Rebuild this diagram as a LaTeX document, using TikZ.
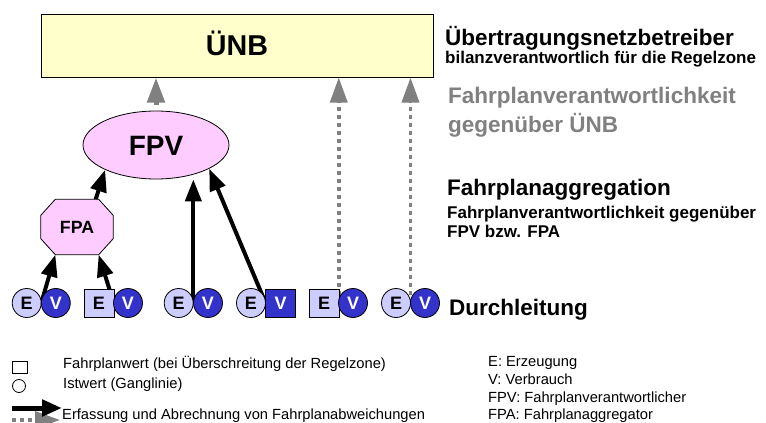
\documentclass[tikz,border=0pt]{standalone}
\usepackage{fontspec}
\setmainfont{Liberation Sans}
\usetikzlibrary{arrows.meta,shapes.geometric,calc}
\definecolor{unbfill}{HTML}{FFFFCC}
\definecolor{fpfill}{HTML}{FFCCFF}
\definecolor{efill}{HTML}{CCCCFF}
\definecolor{vfill}{HTML}{3333CC}
\definecolor{gline}{HTML}{808080}
\pgfdeclarelayer{bg}
\pgfsetlayers{bg,main}
\tikzset{
  unit/.style={draw, line width=0.8pt, inner sep=0pt, text height=13pt, text depth=0pt,
    font=\fontsize{18}{18}\selectfont\bfseries},
  ecirc/.style={unit, circle, minimum size=29pt, fill=efill},
  vcirc/.style={unit, circle, minimum size=29pt, fill=vfill, text=white},
  esq/.style={unit, rectangle, minimum width=30pt, minimum height=28pt, fill=efill},
  vsq/.style={unit, rectangle, minimum width=30pt, minimum height=28pt, fill=vfill, text=white},
  blkarrow/.style={line width=4pt, -{Triangle[length=22pt,width=16pt]}},
  grayarrow/.style={gline, line width=5pt, -{Triangle[length=25pt,width=17pt]}},
  dotarrow/.style={gline, line width=3.5pt, dash pattern=on 4pt off 4pt,
    -{Triangle[length=25pt,width=17pt]}},
  txt/.style={anchor=base west, inner sep=0pt},
  head/.style={txt, font=\fontsize{22.5}{27}\selectfont\bfseries},
  sub/.style={txt, font=\fontsize{17}{20}\selectfont\bfseries},
  leg/.style={txt, font=\fontsize{14.7}{17}\selectfont},
}
\begin{document}
\begin{tikzpicture}[x=1pt,y=-1pt]
\useasboundingbox (0,0) rectangle (766,423);

% top level: transmission system operator
\node[draw, fill=unbfill, line width=1pt, minimum width=392pt, minimum height=63pt,
  inner sep=0pt, text height=20.5pt, text depth=0pt,
  font=\fontsize{28.7}{32}\selectfont\bfseries] (unb) at (237,45.5) {ÜNB};

% schedule responsible party
\node[ellipse, draw, line width=0.8pt, fill=fpfill, minimum width=146pt, minimum height=68pt,
  inner sep=0pt, text height=20pt, text depth=0pt,
  font=\fontsize{28}{30}\selectfont\bfseries] (fpv) at (156,145) {FPV};

% schedule aggregator: octagon drawn around a rectangular node
\node[minimum width=72pt, minimum height=55pt, inner sep=0pt] (fpa) at (77,227) {};
\draw[line width=0.8pt, fill=fpfill]
  ($(fpa.north west)+(14.5,0)$) -- ($(fpa.north east)+(-14.5,0)$)
  -- ($(fpa.north east)+(0,16)$) -- ($(fpa.south east)+(0,-16)$)
  -- ($(fpa.south east)+(-14.5,0)$) -- ($(fpa.south west)+(14.5,0)$)
  -- ($(fpa.south west)+(0,-16)$) -- ($(fpa.north west)+(0,16)$) -- cycle;
\node[inner sep=0pt, text height=12.7pt, text depth=0pt,
  font=\fontsize{17.7}{20}\selectfont\bfseries] (fpatxt) at (fpa.center) {FPA};

% generation / consumption units
\node[ecirc] (e1) at (26.7,303) {E};
\node[vcirc] (v1) at (55.8,303) {V};
\node[esq]   (e2) at (99,303) {E};
\node[vcirc] (v2) at (128,303) {V};
\node[ecirc] (e3) at (178.7,303) {E};
\node[vcirc] (v3) at (208,303) {V};
\node[ecirc] (e4) at (251,303) {E};
\node[vsq]   (v4) at (280.7,303) {V};
\node[esq]   (e5) at (324,303) {E};
\node[vcirc] (v5) at (353,303) {V};
\node[ecirc] (e6) at (396,303) {E};
\node[vcirc] (v6) at (425,303) {V};

\foreach \i in {1,...,6}{
  \coordinate (j\i) at ($(e\i.east)!0.5!(v\i.west)$);
}

\begin{pgfonlayer}{bg}
  \draw[blkarrow] (j1) -- (fpa.232);
  \draw[blkarrow] (j2) -- (fpa.308);
  \draw[blkarrow] (j3) -- (j3 |- fpv.south);
  \draw[blkarrow] (j4) -- (fpv.-24);
  \draw[blkarrow] (fpa.56) -- (fpv.206);
  \draw[grayarrow, shorten <=6pt] (fpv.north) -- (fpv.north |- unb.south);
  \draw[dotarrow] (j5) -- (j5 |- unb.south);
  \draw[dotarrow] (j6) -- (j6 |- unb.south);
\end{pgfonlayer}

% explanations on the right
\node[head] (t1) at (445,45) {Übertragungsnetzbetreiber};
\node[sub] (t2) at (445,63) {bilanzverantwortlich für die Regelzone};
\node[head, text=gline] (t3) at (448,103) {Fahrplanverantwortlichkeit};
\node[head, text=gline] (t4) at (448,132) {gegenüber ÜNB};
\node[head] (t5) at (447,195) {Fahrplanaggregation};
\node[sub] (t6) at (447,218) {Fahrplanverantwortlichkeit gegenüber};
\node[sub] (t7) at (447,237) {FPV bzw. FPA};
\node[head] (t8) at (449,315) {Durchleitung};

% legend, left
\node[draw, line width=0.8pt, minimum width=15pt, minimum height=12pt, inner sep=0pt] (lsq) at (19.5,367) {};
\node[draw, circle, line width=0.8pt, minimum size=13pt, inner sep=0pt] (lci) at (19,386) {};
\node[leg] (l1) at (63,368) {Fahrplanwert (bei Überschreitung der Regelzone)};
\node[leg] (l2) at (63,388) {Istwert (Ganglinie)};
\coordinate (lb1) at (12,420);
\coordinate (lb2) at (60,420);
\draw[dotarrow] (lb1) -- (lb2);
\coordinate (la1) at (12,408);
\coordinate (la2) at (62,408);
\draw[line width=5pt, -{Triangle[length=20pt,width=16pt]}] (la1) -- (la2);
\node[leg] (l3) at (62,419) {Erfassung und Abrechnung von Fahrplanabweichungen};

% legend, right
\node[leg] (r1) at (488,366) {E: Erzeugung};
\node[leg] (r2) at (488,384) {V: Verbrauch};
\node[leg] (r3) at (488,402) {FPV: Fahrplanverantwortlicher};
\node[leg] (r4) at (488,419) {FPA: Fahrplanaggregator};
\end{tikzpicture}
\end{document}
